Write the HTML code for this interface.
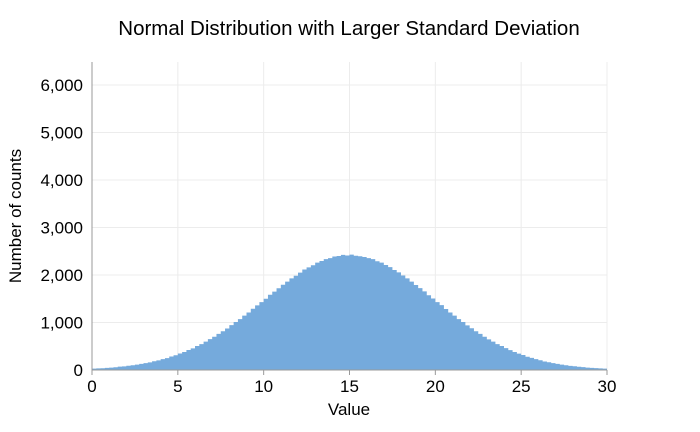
<!DOCTYPE html>
<html><head><meta charset="utf-8"><style>
body{margin:0;background:#fff;}
svg{display:block;font-family:"Liberation Sans",sans-serif;}
</style></head><body>
<svg id="chart" width="700" height="432">
<text x="349" y="35" text-anchor="middle" font-size="20.5" fill="#000">Normal Distribution with Larger Standard Deviation</text>
<g id="grid"></g>
<path id="bars" fill="#75aadc"></path>
<g id="axes"></g>
<text x="349" y="415" text-anchor="middle" font-size="17">Value</text>
<text transform="translate(21,216) rotate(-90)" text-anchor="middle" font-size="17">Number of counts</text>
</svg>
<script>
const binStart = 0;
const binWidth = 0.25;
const counts = [
30,35,38,45,50,58,70,76,90,100,112,128,146,160,185,202,230,250,283,310,
348,378,420,456,505,545,598,650,700,760,815,875,945,1010,1070,1145,1210,1290,1360,1430,
1500,1585,1650,1720,1795,1860,1930,1985,2050,2115,2160,2205,2260,2295,2335,2355,2390,2400,2425,2410,
2430,2405,2395,2380,2355,2335,2290,2260,2210,2165,2105,2055,1990,1930,1860,1790,1725,1655,1575,1505,
1430,1365,1285,1210,1145,1070,1010,940,880,815,760,700,645,598,545,505,460,418,378,345,
315,280,255,228,205,180,162,145,128,112,100,88,78,68,60,51,45,39,34,30];
const xTicks = [0,5,10,15,20,25,30];
const yTicks = [0,1000,2000,3000,4000,5000,6000];
const yTickLabels = ["0","1,000","2,000","3,000","4,000","5,000","6,000"];

const X0=92, X1=607, Y0=370, YTOP=62;
const xs = v => X0 + (v/30)*(X1-X0);
const ys = v => Y0 - v*0.0475;
const NS="http://www.w3.org/2000/svg";
const grid=document.getElementById('grid'), axes=document.getElementById('axes');
function mk(tag, attrs, parent){const e=document.createElementNS(NS,tag);for(const k in attrs)e.setAttribute(k,attrs[k]);parent.appendChild(e);return e;}

xTicks.forEach((t,i)=>{
  const g=mk('line',{x1:xs(t),x2:xs(t),y1:YTOP,y2:Y0,stroke:'#ececec','stroke-width':1},grid);
  
  
  const tk=mk('line',{x1:xs(t),x2:xs(t),y1:Y0,y2:Y0+5,stroke:'#999'},axes);
  
  
  const lb=mk('text',{x:xs(t),y:Y0+22,'text-anchor':'middle','font-size':17},axes);
  lb.textContent=String(t);
  
  
});
yTicks.forEach((t,i)=>{
  const g=mk('line',{x1:X0,x2:X1,y1:ys(t),y2:ys(t),stroke:'#ececec','stroke-width':1},grid);
  
  
  const lb=mk('text',{x:X0-9,y:ys(t)+6,'text-anchor':'end','font-size':17},axes);
  lb.textContent=yTickLabels[i];
  
  
});
let d='M'+xs(binStart)+','+Y0;
counts.forEach((c,i)=>{
  const a=xs(binStart+i*binWidth), b=xs(binStart+(i+1)*binWidth);
  d+=' L'+a+','+ys(c)+' L'+b+','+ys(c);
});
d+=' L'+xs(binStart+counts.length*binWidth)+','+Y0+' Z';
document.getElementById('bars').setAttribute('d',d);
const la=mk('line',{x1:X0,x2:X0,y1:YTOP,y2:Y0,stroke:'#999','stroke-width':1},axes);


const ba=mk('line',{x1:X0,x2:X1,y1:Y0,y2:Y0,stroke:'#999','stroke-width':1},axes);


</script>
</body></html>
